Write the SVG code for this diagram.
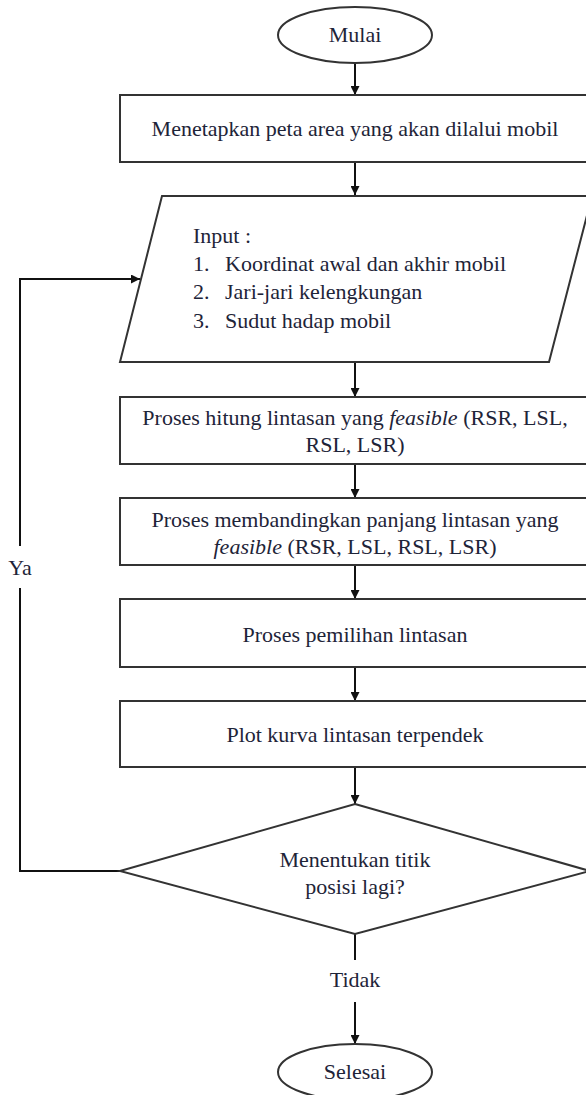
<svg xmlns="http://www.w3.org/2000/svg" width="586" height="1095" viewBox="0 0 586 1095">
<style>
.shape{fill:#fff;stroke:#333;stroke-width:2}
.line{fill:none;stroke:#111;stroke-width:2}
text{font-family:'Liberation Serif','Times New Roman',Tinos,'DejaVu Serif',serif;font-size:22px;fill:#1e2438}
.c{text-anchor:middle}
.lbl{fill:#fff;stroke:none}
</style>
<defs>
<marker id="arr" viewBox="0 0 10 10" refX="10" refY="5" markerWidth="9" markerHeight="9" markerUnits="userSpaceOnUse" orient="auto">
<path d="M0,0 L10,5 L0,10 z" fill="#111"/>
</marker>
</defs>
<rect width="586" height="1095" fill="#fff"/>
<g id="connectors">
<line class="line" x1="355" y1="63" x2="355" y2="95" marker-end="url(#arr)"/>
<line class="line" x1="355" y1="162" x2="355" y2="195" marker-end="url(#arr)"/>
<line class="line" x1="355" y1="362" x2="355" y2="397" marker-end="url(#arr)"/>
<line class="line" x1="355" y1="464" x2="355" y2="498" marker-end="url(#arr)"/>
<line class="line" x1="355" y1="565" x2="355" y2="599" marker-end="url(#arr)"/>
<line class="line" x1="355" y1="667" x2="355" y2="701" marker-end="url(#arr)"/>
<line class="line" x1="355" y1="767" x2="355" y2="804" marker-end="url(#arr)"/>
<path class="line" d="M120,871 H20 V279 H140" marker-end="url(#arr)"/>
<line class="line" x1="355" y1="934" x2="355" y2="1044" marker-end="url(#arr)"/>
<rect class="lbl" x="0" y="546" width="72" height="42"/>
<text x="20" y="575" class="c">Ya</text>
<rect class="lbl" x="300" y="960" width="110" height="42"/>
<text x="355" y="987" class="c">Tidak</text>
</g>
<g id="start">
<ellipse class="shape" cx="355" cy="35" rx="77" ry="28"/>
<text x="355" y="42" class="c">Mulai</text>
</g>
<g id="map">
<rect class="shape" x="120" y="95" width="472" height="67"/>
<text x="355" y="136" class="c">Menetapkan peta area yang akan dilalui mobil</text>
</g>
<g id="input">
<polygon class="shape" points="162,196 592,196 549,362 120,362"/>
<text x="193" y="243">Input :</text>
<text x="193" y="271">1.</text><text x="225" y="271">Koordinat awal dan akhir mobil</text>
<text x="193" y="299">2.</text><text x="225" y="299">Jari-jari kelengkungan</text>
<text x="193" y="328">3.</text><text x="225" y="328">Sudut hadap mobil</text>
</g>
<g id="compute">
<rect class="shape" x="120" y="397" width="472" height="67"/>
<text x="355" y="425" class="c">Proses hitung lintasan yang <tspan font-style="italic">feasible</tspan> (RSR, LSL,</text>
<text x="355" y="452" class="c">RSL, LSR)</text>
</g>
<g id="compare">
<rect class="shape" x="120" y="498" width="472" height="67"/>
<text x="355" y="527" class="c">Proses membandingkan panjang lintasan yang</text>
<text x="355" y="554" class="c"><tspan font-style="italic">feasible</tspan> (RSR, LSL, RSL, LSR)</text>
</g>
<g id="select">
<rect class="shape" x="120" y="599" width="472" height="68"/>
<text x="355" y="642" class="c">Proses pemilihan lintasan</text>
</g>
<g id="plot">
<rect class="shape" x="120" y="701" width="472" height="66"/>
<text x="355" y="742" class="c">Plot kurva lintasan terpendek</text>
</g>
<g id="decision">
<polygon class="shape" points="355,804 590,871 355,934 120,871"/>
<text x="355" y="867" class="c">Menentukan titik</text>
<text x="355" y="894" class="c">posisi lagi?</text>
</g>
<g id="end">
<ellipse class="shape" cx="355" cy="1072" rx="77" ry="28"/>
<text x="355" y="1079" class="c">Selesai</text>
</g>
</svg>
